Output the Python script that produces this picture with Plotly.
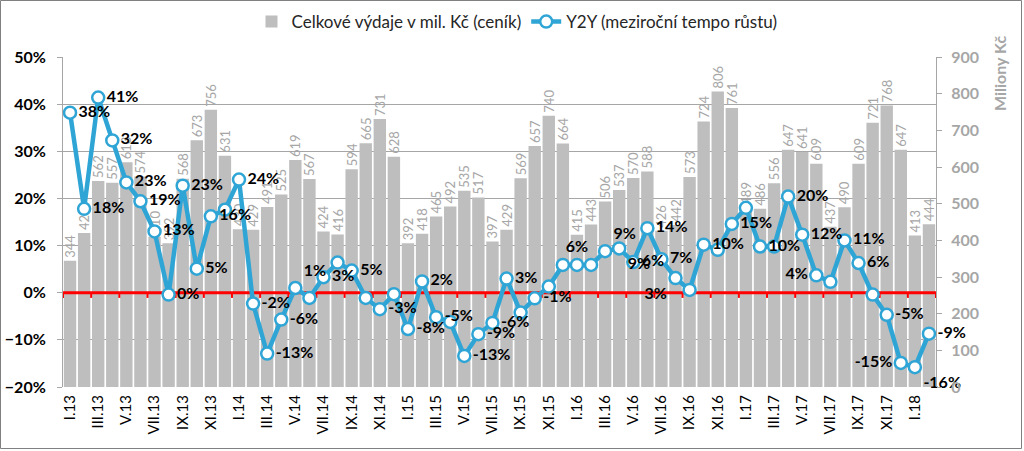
import plotly.graph_objects as go

# ---- data ----
romans = ["I", "II", "III", "IV", "V", "VI", "VII", "VIII", "IX", "X", "XI", "XII"]
years = ["13", "14", "15", "16", "17", "18"]
months = [f"{r}.{y}" for y in years for r in romans][:62]

spend = [344, 420, 562, 557, 613, 574, 410, 392, 568, 673, 756, 631,
         430, 429, 491, 525, 619, 567, 424, 416, 594, 665, 731, 628,
         392, 418, 465, 492, 535, 517, 397, 429, 569, 657, 740, 664,
         415, 443, 506, 537, 570, 588, 426, 442, 573, 724, 806, 761,
         489, 486, 556, 647, 641, 609, 437, 490, 609, 721, 768, 647,
         413, 444]

yoy_pct = [38.2, 17.8, 41.4, 32.3, 23.4, 19.4, 13.0, -0.4, 22.7, 5.1, 16.2, 17.6,
           24.0, -2.3, -12.9, -5.7, 1.0, -1.1, 3.3, 6.4, 4.7, -1.1, -3.5, -0.3,
           -7.7, 2.4, -5.2, -6.2, -13.4, -8.8, -6.4, 3.0, -4.2, -1.2, 1.3, 5.9,
           5.9, 5.9, 8.8, 9.4, 6.5, 13.7, 7.1, 3.1, 0.6, 10.2, 9.1, 14.6,
           18.0, 9.8, 9.8, 20.4, 12.3, 3.7, 2.3, 11.1, 6.3, -0.4, -4.7, -14.9,
           -15.8, -8.7]

yoy_labels = ["38%", "18%", "41%", "32%", "23%", "19%", "13%", "0%", "23%", "5%", "16%", "",
              "24%", "-2%", "-13%", "-6%", "1%", "", "3%", "", "5%", "", "-3%", "",
              "-8%", "2%", "-5%", "", "-13%", "-9%", "-6%", "3%", "", "-1%", "", "",
              "6%", "", "9%", "9%", "6%", "14%", "7%", "3%", "", "10%", "", "15%",
              "", "10%", "", "20%", "12%", "4%", "", "11%", "6%", "", "-5%", "-15%",
              "-16%", "-9%"]

tick_labels = months[::2]

# ---- styles ----
label_pos = ["middle right"] * len(months)
for i, p in {16: "top right", 36: "top center", 38: "top right", 39: "bottom right",
             43: "bottom left", 53: "middle left", 59: "middle left",
             60: "bottom right"}.items():
    label_pos[i] = p

BLUE = "#2FA5D6"
BAR = "#BEBEBE"
GRAYTXT = "#A6A6A6"
FONT = "Lato"

W, H = 1024, 451
ML, MR, MT, MB = 63, 88, 57, 64
PW, PH = W - ML - MR, H - MT - MB

x = list(range(len(months)))
yoy = [v / 100 for v in yoy_pct]
n = len(months)

fig = go.Figure()
fig.add_trace(go.Bar(
    x=x, y=spend, name="Celkové výdaje v mil. Kč (ceník)", yaxis="y",
    marker=dict(color=BAR, line=dict(width=0)),
    text=[str(v) for v in spend], textposition="outside", textangle=-90,
    textfont=dict(family=FONT, size=13, color=GRAYTXT),
    constraintext="none", cliponaxis=False, hoverinfo="skip",
))

# zero reference line with tick marks (the category axis crossing at 0)
fig.add_trace(go.Scatter(
    x=[-0.5, n - 0.5], y=[0, 0], yaxis="y2", mode="lines",
    line=dict(color="#FF0000", width=3), showlegend=False, hoverinfo="skip",
))
tx, ty = [], []
for k in range(0, n + 1, 2):
    tx += [k - 0.5, k - 0.5, None]
    ty += [0, -0.011, None]
fig.add_trace(go.Scatter(
    x=tx, y=ty, yaxis="y2", mode="lines",
    line=dict(color="#FF0000", width=2), showlegend=False, hoverinfo="skip",
))

fig.add_trace(go.Scatter(
    x=x, y=yoy, name="Y2Y (meziroční tempo růstu)", yaxis="y2",
    mode="lines+markers+text",
    line=dict(color=BLUE, width=4.5),
    marker=dict(symbol="circle", size=12, color="white", line=dict(color=BLUE, width=2.5)),
    text=yoy_labels, textposition=label_pos,
    textfont=dict(family=FONT, size=16, color="#000000", weight="bold"),
    cliponaxis=False, hoverinfo="skip",
))

fig.update_layout(
    width=W, height=H,
    margin=dict(l=ML, r=MR, t=MT, b=MB, autoexpand=False),
    paper_bgcolor="white", plot_bgcolor="white",
    font=dict(family=FONT, size=14, color="#000000"),
    bargap=0.12,
    showlegend=True,
    legend=dict(orientation="h", x=(517 - ML) / PW, xanchor="center", y=1.106, yanchor="middle",
                font=dict(family=FONT, size=17, color="#262626"), itemwidth=30,
                bgcolor="rgba(0,0,0,0)"),
    xaxis=dict(range=[-0.5, n - 0.5], tickmode="array", tickvals=x[::2], ticktext=tick_labels,
               tickangle=-90, tickfont=dict(family=FONT, size=15, color="#000000"),
               showgrid=False, zeroline=False, showline=False, ticks="", ticklabelstandoff=4,
               automargin=False),
    yaxis=dict(range=[0, 900], dtick=100, side="right", showgrid=False, zeroline=False,
               tickfont=dict(family=FONT, size=16, color=GRAYTXT, weight="bold"),
               showline=True, linecolor="#A6A6A6", ticks="outside", ticklen=5, tickcolor="#A6A6A6",
               ticklabelstandoff=6, automargin=False),
    yaxis2=dict(range=[-0.2, 0.5], dtick=0.1, tickformat=".0%", side="left", overlaying="y",
                showgrid=True, gridcolor="#A6A6A6", gridwidth=1, zeroline=False,
                tickfont=dict(family=FONT, size=16, color="#000000", weight="bold"),
                showline=True, linecolor="#A6A6A6", ticks="outside", ticklen=5, tickcolor="#A6A6A6",
                ticklabelstandoff=8, automargin=False),
    annotations=[dict(text="<b>Miliony Kč</b>", textangle=-90, xref="paper", yref="paper",
                      x=(999 - ML) / PW, y=(H - MB - 74) / PH, xanchor="center", yanchor="middle",
                      showarrow=False, font=dict(family=FONT, size=16, color=GRAYTXT))],
    shapes=[dict(type="rect", xref="paper", yref="paper",
                 x0=(0.5 - ML) / PW, x1=(W - 2.5 - ML) / PW,
                 y0=(H - MB - (H - 2.5)) / PH, y1=(H - MB - 0.5) / PH,
                 line=dict(color="#808080", width=1), fillcolor="rgba(0,0,0,0)")],
)

fig.write_html("out.html", config={"displayModeBar": False},
               post_script="document.body.style.margin='0';document.body.style.overflow='hidden';")
